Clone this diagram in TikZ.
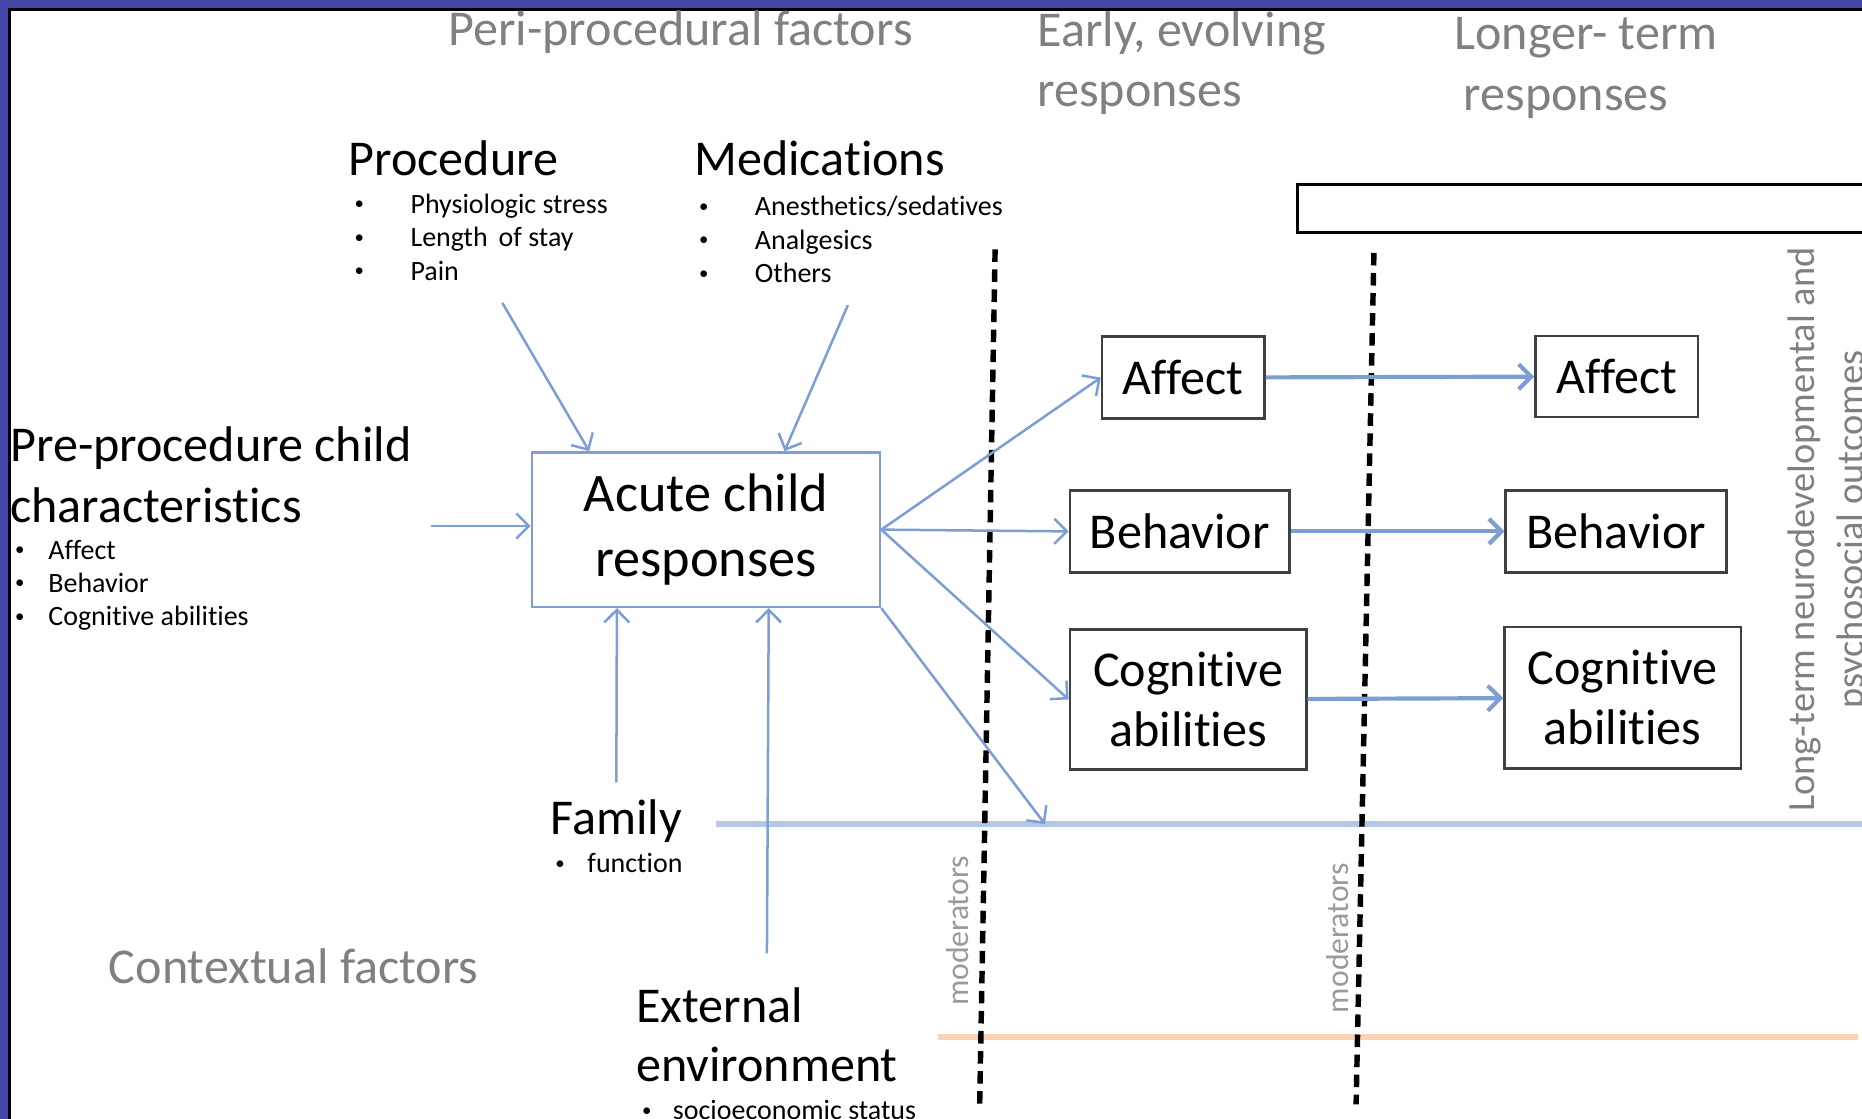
\documentclass[tikz,border=0pt]{standalone}
\usepackage{fontspec}
\setmainfont{Carlito}[Ligatures=NoCommon]
\usetikzlibrary{arrows.meta,calc}
\definecolor{frameblue}{RGB}{67,72,168}
\definecolor{flowblue}{RGB}{124,158,212}
\definecolor{lineblue}{RGB}{180,199,231}
\definecolor{lineorange}{RGB}{250,210,182}
\definecolor{phasegray}{RGB}{128,128,128}
\definecolor{boxgray}{RGB}{64,64,64}
\newcommand{\itm}[2][0.47cm]{\makebox[#1][l]{\fontsize{4.5}{5}\selectfont\raisebox{0.4ex}{\textbullet}}#2}

\begin{document}
\begin{tikzpicture}[x=0.01cm, y=-0.01cm, >={Straight Barb[length=3pt,width=6pt]},
  heading/.style={anchor=base west, inner sep=0pt, align=left, font=\fontsize{12}{14.5}\selectfont},
  phase/.style={heading, text=phasegray},
  items/.style={anchor=base west, inner sep=0pt, align=left, font=\fontsize{6.7}{8}\selectfont},
  respbox/.style={draw=boxgray, line width=0.6pt, align=center, inner sep=0pt, font=\fontsize{12}{14.5}\selectfont},
  flow/.style={->, draw=flowblue, line width=0.6pt},
  carry/.style={->, draw=flowblue, line width=1pt},
  modline/.style={line width=1.3pt, dash pattern=on 3pt off 1.8pt},
  modlabel/.style={rotate=90, inner sep=0pt, text=phasegray!80, font=\fontsize{7.6}{9}\selectfont}]

% Rahmen
\useasboundingbox (0,0) rectangle (1568,942);
\clip (0,0) rectangle (1568,942);
\fill[frameblue] (0,0) rectangle (1568,942);
\fill[white] (8,8) rectangle (1568,942);
\draw[line width=0.6pt] (8,942) -- (8,8) -- (1568,8);

% Phasen oben (base = letzte Zeile)
\node[phase] (peri) at (377,38) {Peri-procedural factors};
\node[phase] (early) at (873,90) {Early, evolving\\responses};
\node[phase] (longer) at (1224,93) {Longer- term\\\hspace{0.08cm}responses};

% Einflussfaktoren
\node[heading] (procedure) at (293,148) {Procedure};
\node[items] (procitems) at (298,236) {\itm{Physiologic stress}\\\itm{Length\, of stay}\\\itm{Pain}};
\node[heading] (medications) at (584,148) {Medications};
\node[items] (meditems) at (588,238) {\itm{Anesthetics/sedatives}\\\itm{Analgesics}\\\itm{Others}};
\node[heading] (pre) at (8,440) {Pre-procedure child\\characteristics};
\node[items] (preitems) at (12,527) {\itm[0.28cm]{Affect}\\\itm[0.28cm]{Behavior}\\\itm[0.28cm]{Cognitive abilities}};
\node[heading] (family) at (463,703) {Family};
\node[items] (famitems) at (467,735) {\itm[0.27cm]{function}};
\node[phase] (context) at (91,828) {Contextual factors};
\node[heading, font=\fontsize{12}{14.2}\selectfont] (extenv) at (535,911) {External\\environment};
\node[items] (extitems) at (540,943) {\itm[0.26cm]{socioeconomic status}};

% Zentrale Box
\node[draw=flowblue, line width=0.6pt, minimum width=2.93cm, minimum height=1.30cm, align=center,
      font=\fontsize{13}{15.4}\selectfont] (acute) at (594.5,446) {Acute child\\responses};

% fruehe und spaetere Antworten
\node[respbox, minimum width=1.37cm, minimum height=0.69cm] (aff1) at (996.5,318) {Affect};
\node[respbox, minimum width=1.85cm, minimum height=0.69cm] (beh1) at (993.5,447.5) {Behavior};
\node[respbox, minimum width=1.99cm, minimum height=1.18cm] (cog1) at (1000.5,589) {Cognitive\\abilities};
\node[respbox, minimum width=1.37cm, minimum height=0.68cm] (aff2) at (1361.5,317) {Affect};
\node[respbox, minimum width=1.86cm, minimum height=0.69cm] (beh2) at (1361,447.5) {Behavior};
\node[respbox, minimum width=1.99cm, minimum height=1.19cm] (cog2) at (1366.5,587.5) {Cognitive\\abilities};

\draw[line width=0.7pt] (1568,155) -- (1093,155) -- (1093,196) -- (1568,196);
\node[rotate=90, align=center, text=phasegray, font=\fontsize{9.2}{11.6}\selectfont] (outcomes) at (1540,446)
  {Long-term neurodevelopmental and\\psychosocial outcomes};

% Kontextlinien
\coordinate (famstart) at (603,694);
\coordinate (famend) at (1568,694);
\coordinate (famhit) at (880,694);
\draw[lineblue, line width=1.4pt] (famstart) -- (famend);
\draw[lineorange, line width=1.4pt] (790,873) -- (1565,873);

% Moderatoren
\coordinate (mod1top) at (838,210);
\coordinate (mod1bot) at (825,930);
\coordinate (mod2top) at (1157,213);
\coordinate (mod2bot) at (1142,930);
\draw[modline] (mod1top) -- (mod1bot);
\draw[modline] (mod2top) -- (mod2bot);
\node[modlabel] (mod1) at (806,784) {moderators};
\node[modlabel] (mod2) at (1126,790) {moderators};

% Pfeile
\coordinate (procout) at (423,255);
\coordinate (medout) at (714,257);
\coordinate (preout) at (363,443);
\draw[flow] (procout) -- ($(acute.north west)!0.167!(acute.north east)$);
\draw[flow] (medout) -- ($(acute.north west)!0.724!(acute.north east)$);
\draw[flow] (preout) -- (preout -| acute.west);
\draw[flow] ([yshift=4pt]family.north) -- ($(acute.south west)!0.246!(acute.south east)$);
\draw[flow] ([yshift=8pt]extenv.north) -- ($(acute.south west)!0.679!(acute.south east)$);
\draw[flow] (acute.east) -- (aff1.west);
\draw[flow] (acute.east) -- (beh1.west);
\draw[flow] (acute.east) -- (cog1.west);
\draw[flow] (acute.south east) -- (famhit);
\draw[carry] (aff1) -- (aff2);
\draw[carry] (beh1) -- (beh2);
\draw[carry] (cog1) -- (cog2);

\end{tikzpicture}
\end{document}
